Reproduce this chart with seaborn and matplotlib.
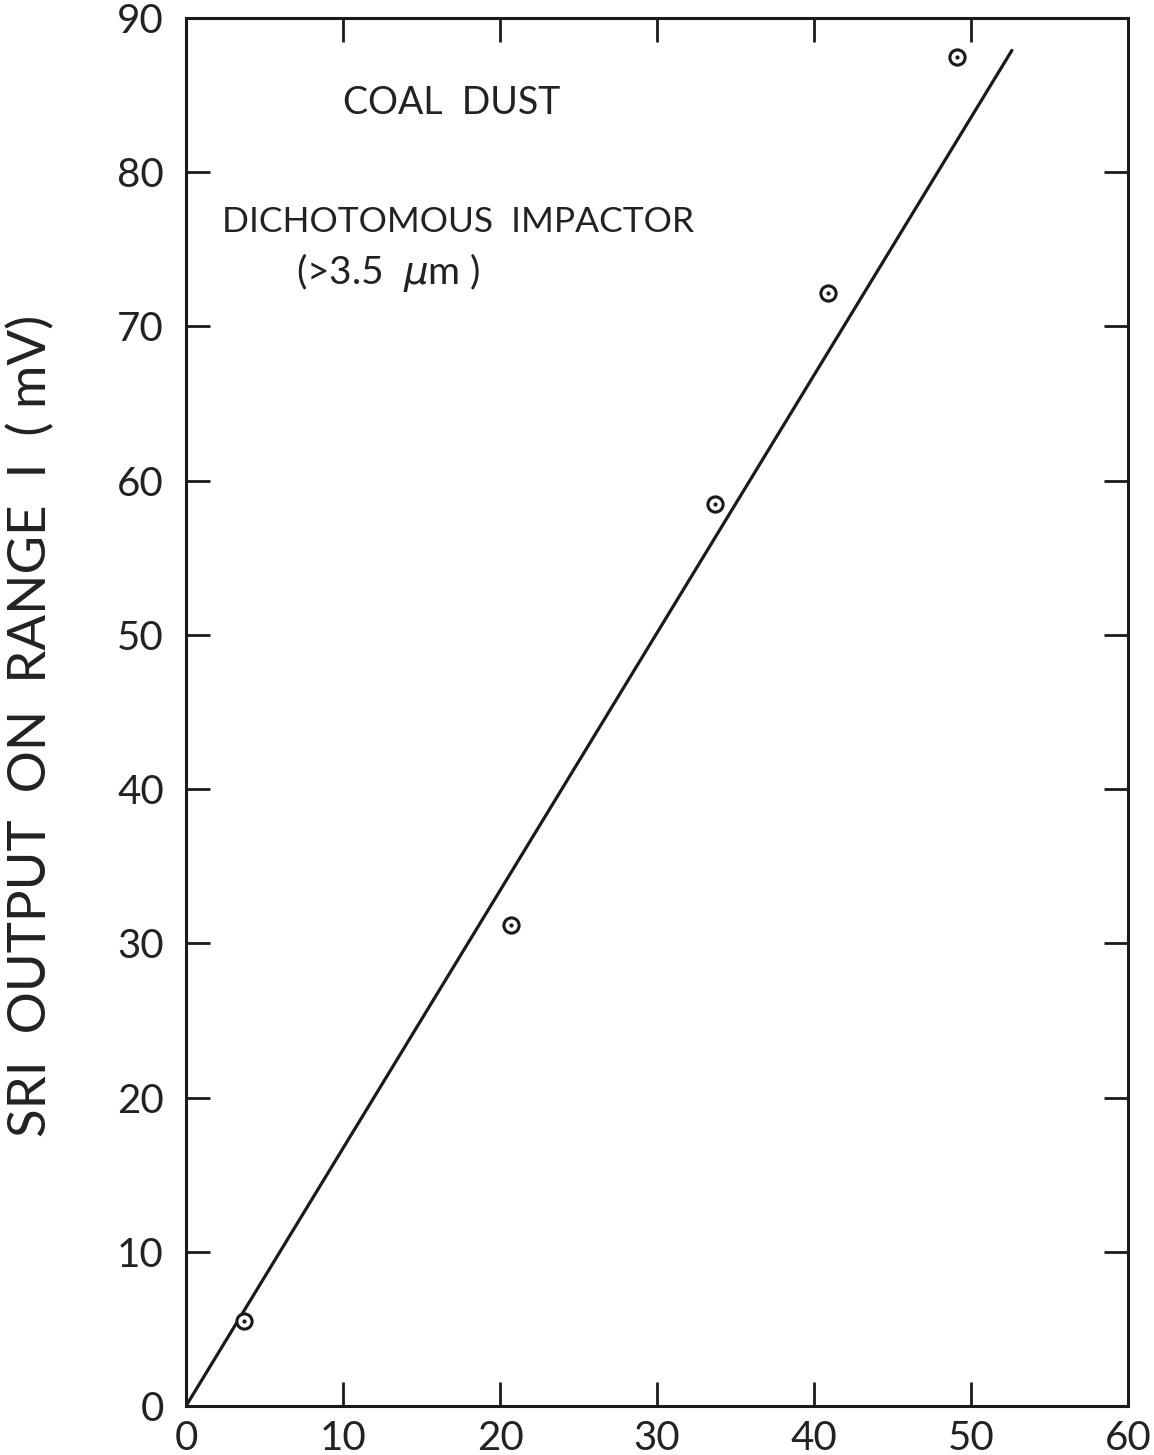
import matplotlib
matplotlib.use("Agg")
import matplotlib.pyplot as plt
import seaborn as sns
import pandas as pd

# Data
mass_x = [3.7, 20.7, 33.7, 40.9, 49.1]
sri_y = [5.5, 31.2, 58.5, 72.2, 87.5]
fit_x = [0.0, 52.6]
fit_y = [0.0, 87.9]
x_ticks = [0, 10, 20, 30, 40, 50, 60]
y_ticks = [0, 10, 20, 30, 40, 50, 60, 70, 80, 90]
y_label = "SRI  OUTPUT  ON  RANGE  I  ( mV)"
title_text = "COAL  DUST"
sub_text = "DICHOTOMOUS  IMPACTOR"
size_text = "(>3.5  $\\mu$m )"

sns.set_style("ticks")
plt.rcParams['font.family'] = ['Lato', 'DejaVu Sans']
plt.rcParams['mathtext.fontset'] = 'dejavusans'

fig = plt.figure(figsize=(11.54, 14.55), dpi=100)
ax = fig.add_axes([0.1612, 0.0337, 0.9775 - 0.1612, 0.9876 - 0.0337])

pts = pd.DataFrame({"x": mass_x, "y": sri_y})
fit = pd.DataFrame({"x": fit_x, "y": fit_y})

sns.lineplot(data=fit, x="x", y="y", ax=ax, color="#1a1a1a", linewidth=2.3)
sns.scatterplot(data=pts, x="x", y="y", ax=ax, marker="o", s=120,
                facecolor="white", edgecolor="#1a1a1a", linewidth=2.2, zorder=3)
sns.scatterplot(data=pts, x="x", y="y", ax=ax, marker="o", s=9,
                color="#1a1a1a", edgecolor="#1a1a1a", linewidth=0, zorder=4)

ax.set_xlim(0, 60)
ax.set_ylim(0, 90)
ax.set_xticks(x_ticks)
ax.set_yticks(y_ticks)
ax.set_xticklabels([str(t) for t in x_ticks], fontsize=29, color="#222222")
ax.set_yticklabels([str(t) for t in y_ticks], fontsize=29, color="#222222")
ax.tick_params(axis="both", direction="in", length=17, width=2.0, color="#1a1a1a",
               top=True, right=True, labeltop=False, labelright=False)
ax.tick_params(axis="x", pad=10)
ax.tick_params(axis="y", pad=16)
# hide ticks at the ends (frame corners)
for t in ax.xaxis.get_major_ticks()[::len(x_ticks) - 1]:
    t.tick1line.set_visible(False)
    t.tick2line.set_visible(False)
for t in ax.yaxis.get_major_ticks()[::len(y_ticks) - 1]:
    t.tick1line.set_visible(False)
    t.tick2line.set_visible(False)

for sp in ax.spines.values():
    sp.set_linewidth(2.2)
    sp.set_color("#1a1a1a")

ax.set_xlabel("")
ax.set_ylabel(y_label, fontsize=38, color="#222222")
ax.yaxis.set_label_coords(-0.139, 0.49)

ax.text(16.9, 84.5, title_text, fontsize=27, ha="center", va="center", color="#222222")
ax.text(2.3, 76.8, sub_text, fontsize=25.5, ha="left", va="center", color="#222222")
ax.text(7.0, 73.5, size_text, fontsize=28, ha="left", va="center", color="#222222")

fig.savefig("out.png", dpi=100, facecolor="white")
